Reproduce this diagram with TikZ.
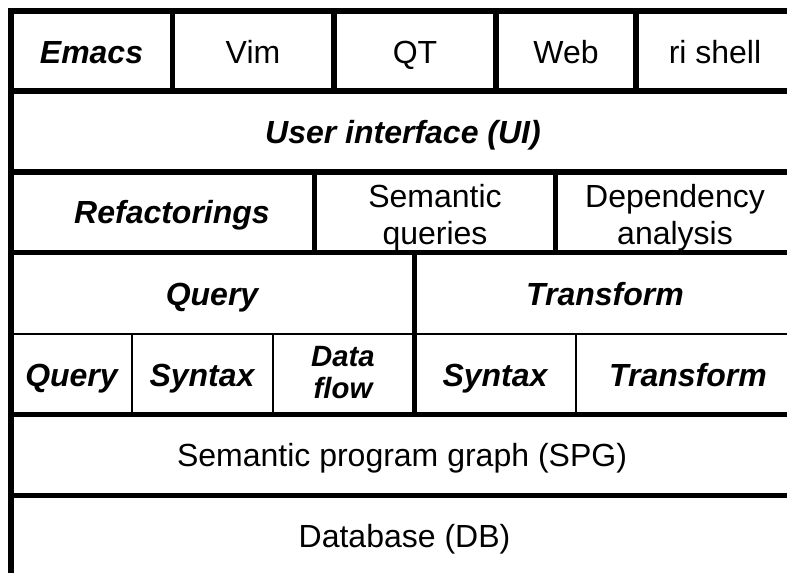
\documentclass[tikz,border=0pt]{standalone}
\usepackage{fontspec}
\setmainfont{Liberation Sans}
\begin{document}
\begin{tikzpicture}[x=0.75pt,y=-0.75pt,
  thickrule/.style={line width=4.2pt, line cap=rect},
  thinrule/.style={line width=1.6pt},
  plain/.style={font=\fontsize{24}{27.75}\selectfont, align=center, inner sep=0pt},
  emph/.style={font=\fontsize{24}{27.75}\selectfont\bfseries\itshape, align=center, inner sep=0pt},
  emphsmall/.style={font=\fontsize{22}{23.5}\selectfont\bfseries\itshape, align=center, inner sep=0pt}]
\useasboundingbox (0,0) rectangle (787,572);
\clip (0,0) rectangle (787,572);

% outer frame: top edge and left edge
\draw[thickrule, line join=miter, line cap=butt] (810,11) -- (11,11) -- (11,590);

% horizontal rules between layers
\draw[thickrule] (11,91)    -- (810,91);
\draw[thickrule] (11,172)   -- (810,172);
\draw[thickrule] (11,252.5) -- (810,252.5);
\draw[thinrule]  (11,334)   -- (810,334);
\draw[thickrule] (11,414.5) -- (810,414.5);
\draw[thickrule] (11,495.5) -- (810,495.5);

% front-end separators
\draw[thickrule] (172.5,11) -- (172.5,91);
\draw[thickrule] (334,11)   -- (334,91);
\draw[thickrule] (496,11)   -- (496,91);
\draw[thickrule] (636,11)   -- (636,91);

% service separators
\draw[thickrule] (314.5,172) -- (314.5,252.5);
\draw[thickrule] (555.5,172) -- (555.5,252.5);

% query / transform split
\draw[thickrule] (414.5,252.5) -- (414.5,414.5);

% sub-module separators
\draw[thinrule] (132,334) -- (132,414.5);
\draw[thinrule] (273,334) -- (273,414.5);
\draw[thinrule] (576,334) -- (576,414.5);

% front ends
\node[emph,  anchor=base] (emacs) at (91.5,63) {Emacs};
\node[plain, anchor=base] (vim)   at (253,63)  {Vim};
\node[plain, anchor=base] (qt)    at (415,63)  {QT};
\node[plain, anchor=base] (web)   at (566,63)  {Web};
\node[plain, anchor=base] (ri)    at (715,63)  {ri shell};

% user interface
\node[emph, anchor=base] (ui) at (403,143) {User interface (UI)};

% services
\node[emph, anchor=base] (refac) at (172,223.5) {Refactorings};
\node[plain] (semq) at (435,217.5) {Semantic\\queries};
\node[plain] (dep)  at (675,217.5) {Dependency\\analysis};

% query and transform layers
\node[emph, anchor=base] (query) at (212,305) {Query};
\node[emph, anchor=base] (trans) at (605,305) {Transform};

% sub-modules
\node[emph, anchor=base] (q2)   at (71.5,386) {Query};
\node[emph, anchor=base] (syn1) at (202,386)  {Syntax};
\node[emphsmall]         (df)   at (343,372.5) {Data\\flow};
\node[emph, anchor=base] (syn2) at (495,386)  {Syntax};
\node[emph, anchor=base] (tr2)  at (688,386)  {Transform};

% storage layers
\node[plain, anchor=base] (spg) at (402,466) {Semantic program graph (SPG)};
\node[plain, anchor=base] (db)  at (404.5,547) {Database (DB)};
\end{tikzpicture}
\end{document}
